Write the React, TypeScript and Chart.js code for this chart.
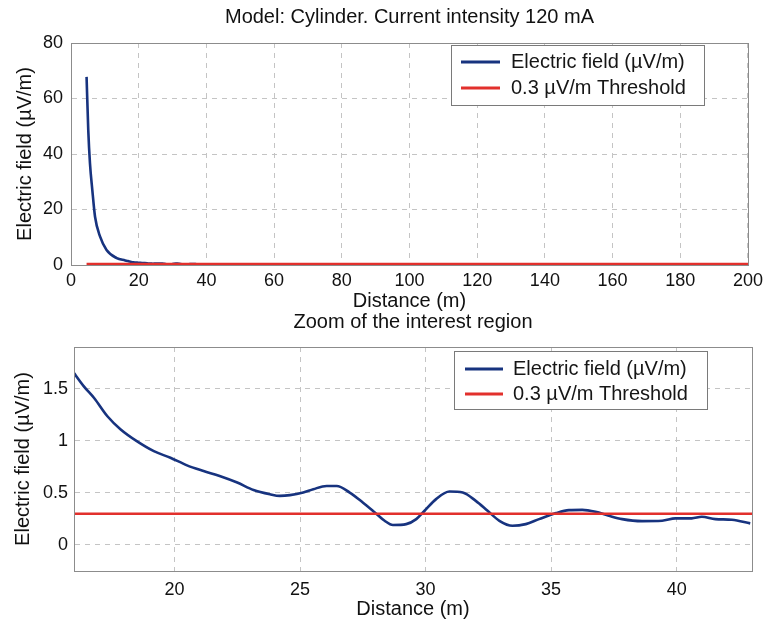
import React, { useEffect, useRef } from "react";
import { Chart, registerables } from "chart.js";

Chart.register(...registerables);

// ---- data ----
const distance = [
  4.6, 5.1, 5.6, 6.3, 7.1, 8.6, 10.5, 13.5, 16.0, 16.4, 16.8, 17.33, 17.86, 18.5, 19.18, 19.84, 20.5, 21.16,
  21.8, 22.5, 23.15, 23.8, 24.2, 24.6, 25.13, 25.53, 26.06, 26.46, 26.98, 27.5, 27.98, 28.37, 28.7, 29.23, 29.63,
  29.96, 30.42, 30.95, 31.48, 32.0, 32.47, 32.94, 33.46, 33.99, 34.52, 35.2, 35.71, 36.24, 36.77, 37.3, 37.83,
  38.62, 39.42, 39.95, 40.6, 41.0, 41.54, 42.2, 42.93,
];
const field = [
  67.8, 48.6, 36.7, 27.0, 17.4, 10.2, 5.4, 2.5, 1.65, 1.52, 1.41, 1.235, 1.108, 0.996, 0.9, 0.837, 0.764, 0.71,
  0.662, 0.599, 0.528, 0.487, 0.471, 0.478, 0.503, 0.535, 0.566, 0.566, 0.503, 0.408, 0.312, 0.232, 0.191, 0.2, 0.248,
  0.328, 0.44, 0.513, 0.503, 0.423, 0.328, 0.232, 0.184, 0.2, 0.248, 0.306, 0.334, 0.337, 0.318, 0.28, 0.248,
  0.229, 0.232, 0.255, 0.255, 0.27, 0.248, 0.242, 0.207,
];
const thresholdX = [4.6, 200];
const thresholdY = [0.3, 0.3];

const seriesLabels = ["Electric field (\u00b5V/m)", "0.3 \u00b5V/m Threshold"];
const topTitle = "Model: Cylinder. Current intensity 120 mA";
const zoomTitle = "Zoom of the interest region";
const xTitle = "Distance (m)";
const yTitle = "Electric field (\u00b5V/m)";

const topXTicks = [0, 20, 40, 60, 80, 100, 120, 140, 160, 180, 200];
const topYTicks = [0, 20, 40, 60, 80];
const zoomXTicks = [20, 25, 30, 35, 40];
const zoomYTicks = [0, 0.5, 1, 1.5];

// ---- styles ----
const FONT = "'Liberation Sans', Arial, Helvetica, sans-serif";
const BLUE = "#17337f";
const RED = "#e2302c";
const GRID = "#c4c4c4";
const FRAME = "#8c8c8c";

const decoPlugin = {
  id: "matlabDeco",
  afterDatasetsDraw(chart: any, _args: any, opts: any) {
    const { ctx, chartArea } = chart;
    const a = chartArea;
    ctx.save();
    // axes box
    ctx.strokeStyle = FRAME;
    ctx.lineWidth = 1;
    ctx.setLineDash([]);
    ctx.strokeRect(Math.round(a.left) + 0.5, Math.round(a.top) + 0.5, Math.round(a.right - a.left), Math.round(a.bottom - a.top));
    // title
    ctx.fillStyle = "#111";
    ctx.font = `20px ${FONT}`;
    ctx.textAlign = "center";
    ctx.textBaseline = "middle";
    ctx.fillText(opts.title, (a.left + a.right) / 2, opts.titleY);
    // legend
    const L = opts.legend;
    ctx.fillStyle = "#fff";
    ctx.fillRect(L.x, L.y, L.w, L.h);
    ctx.strokeStyle = "#7a7a7a";
    ctx.strokeRect(L.x + 0.5, L.y + 0.5, L.w, L.h);
    chart.data.datasets.forEach((ds: any, i: number) => {
      const y = L.rows[i];
      ctx.strokeStyle = ds.borderColor;
      ctx.lineWidth = 3;
      ctx.beginPath();
      ctx.moveTo(L.s1, y);
      ctx.lineTo(L.s2, y);
      ctx.stroke();
      ctx.fillStyle = "#161616";
      ctx.font = `20px ${FONT}`;
      ctx.textAlign = "left";
      ctx.textBaseline = "middle";
      ctx.fillText(ds.label, L.tx, y);
    });
    ctx.restore();
  },
};

function makeConfig(p: any) {
  return {
    type: "line",
    data: {
      datasets: [
        {
          label: seriesLabels[0],
          data: distance.map((x, i) => ({ x, y: field[i] })),
          borderColor: BLUE,
          borderWidth: 2.6,
          pointRadius: 0,
          cubicInterpolationMode: "monotone",
          order: 1,
        },
        {
          label: seriesLabels[1],
          data: thresholdX.map((x, i) => ({ x, y: thresholdY[i] })),
          borderColor: RED,
          borderWidth: 2.6,
          pointRadius: 0,
          order: 0,
        },
      ],
    },
    options: {
      animation: false,
      responsive: false,
      events: [],
      layout: { padding: { left: 0, right: p.padRight, top: p.padTop, bottom: 0 } },
      plugins: {
        legend: { display: false },
        tooltip: { enabled: false },
        title: { display: false },
        matlabDeco: { title: p.title, titleY: p.titleY, legend: p.legend },
      },
      scales: {
        x: {
          type: "linear",
          min: p.xMin,
          max: p.xMax,
          afterBuildTicks: (s: any) => {
            s.ticks = p.xTicks.map((v: number) => ({ value: v }));
          },
          afterFit: (s: any) => {
            s.height = p.xAxisHeight;
          },
          grid: { color: GRID, lineWidth: 1, drawTicks: false },
          border: { display: true, color: FRAME, dash: [5, 5] },
          ticks: {
            color: "#111",
            font: { family: FONT, size: 18 },
            padding: p.xTickPad,
            autoSkip: false,
            maxRotation: 0,
            callback: (v: any) => String(v),
          },
          title: {
            display: true,
            text: xTitle,
            color: "#111",
            font: { family: FONT, size: 20 },
            padding: { top: 0, bottom: p.xTitlePad },
          },
        },
        y: {
          type: "linear",
          min: p.yMin,
          max: p.yMax,
          afterBuildTicks: (s: any) => {
            s.ticks = p.yTicks.map((v: number) => ({ value: v }));
          },
          afterFit: (s: any) => {
            s.width = p.yAxisWidth;
          },
          grid: { color: GRID, lineWidth: 1, drawTicks: false },
          border: { display: true, color: FRAME, dash: [5, 5] },
          ticks: {
            color: "#111",
            font: { family: FONT, size: 18 },
            padding: p.yTickPad,
            autoSkip: false,
            callback: (v: any) => String(v),
          },
          title: {
            display: true,
            text: yTitle,
            color: "#111",
            font: { family: FONT, size: 20 },
            padding: { top: p.yTitlePad, bottom: 0 },
          },
        },
      },
    },
    plugins: [decoPlugin],
  };
}

const TOP = {
  title: topTitle,
  titleY: 17,
  padTop: 43,
  padRight: 20,
  xAxisHeight: 55,
  yAxisWidth: 71,
  xMin: 0,
  xMax: 200,
  yMin: 0,
  yMax: 80,
  xTicks: topXTicks,
  yTicks: topYTicks,
  xTickPad: 5,
  yTickPad: 8,
  xTitlePad: 7,
  yTitlePad: 13,
  legend: { x: 451, y: 45, w: 253, h: 60, s1: 461, s2: 500, tx: 511, rows: [62, 88] },
};

const ZOOM = {
  title: zoomTitle,
  titleY: 22,
  padTop: 47,
  padRight: 16,
  xAxisHeight: 53,
  yAxisWidth: 74,
  xMin: 16,
  xMax: 43,
  yMin: -0.25,
  yMax: 1.9,
  xTicks: zoomXTicks,
  yTicks: zoomYTicks,
  xTickPad: 8,
  yTickPad: 6,
  xTitlePad: 3,
  yTitlePad: 11,
  legend: { x: 454, y: 51, w: 253, h: 58, s1: 465, s2: 503, tx: 513, rows: [69, 94] },
};

export default function App() {
  const topRef = useRef<HTMLCanvasElement>(null);
  const zoomRef = useRef<HTMLCanvasElement>(null);

  useEffect(() => {
    const c1 = new Chart(topRef.current as HTMLCanvasElement, makeConfig(TOP) as any);
    const c2 = new Chart(zoomRef.current as HTMLCanvasElement, makeConfig(ZOOM) as any);
    return () => {
      c1.destroy();
      c2.destroy();
    };
  }, []);

  return (
    <div style={{ position: "fixed", left: 0, top: 0, width: 768, height: 624, background: "#fff", overflow: "hidden" }}>
      <canvas
        ref={topRef}
        width={768}
        height={320}
        style={{ position: "absolute", left: 0, top: 0, width: 768, height: 320 }}
      />
      <canvas
        ref={zoomRef}
        width={768}
        height={324}
        style={{ position: "absolute", left: 0, top: 300, width: 768, height: 324 }}
      />
    </div>
  );
}
